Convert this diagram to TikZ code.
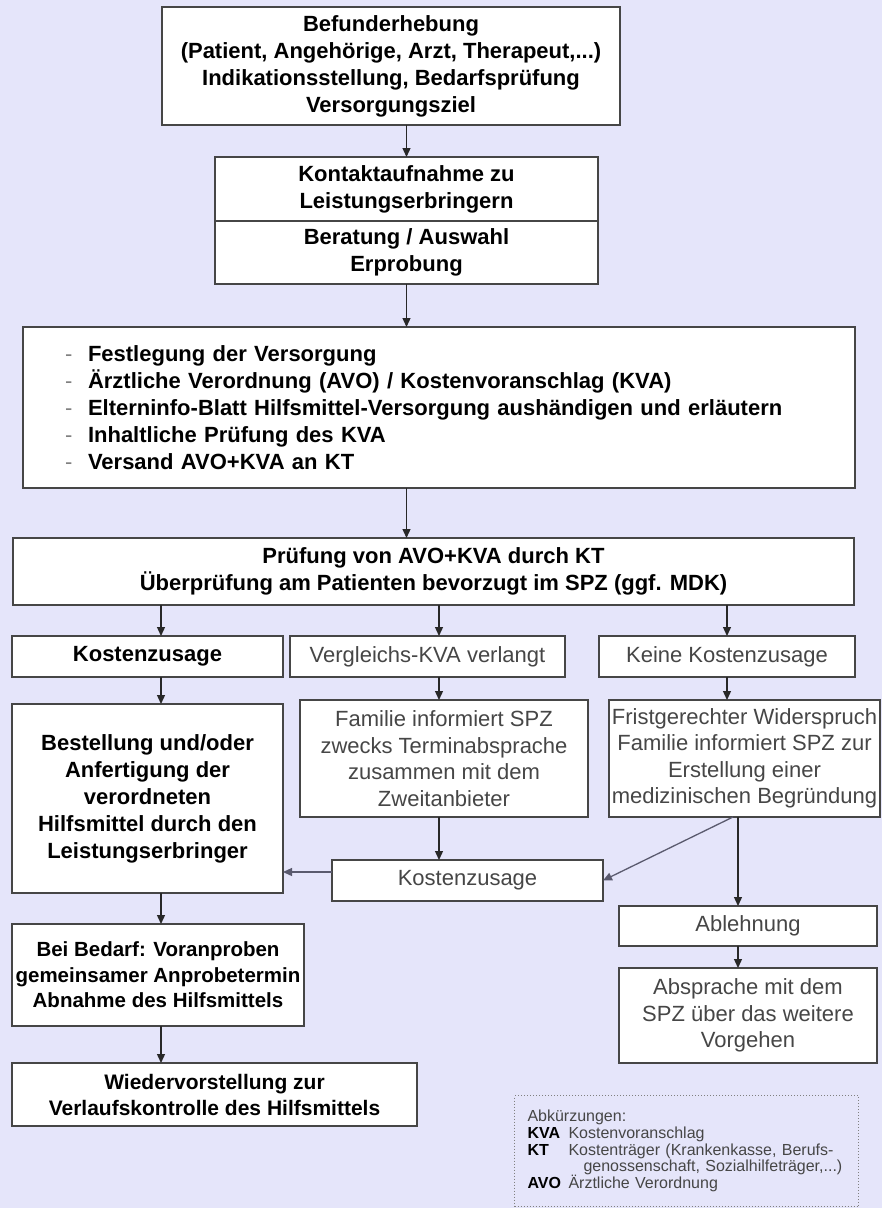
\documentclass[tikz,border=0pt]{standalone}
\usepackage{fontspec}
\setmainfont{Liberation Sans}
\usetikzlibrary{arrows.meta}

\definecolor{hintergrund}{RGB}{229,229,250}
\definecolor{rahmen}{RGB}{70,70,70}
\definecolor{grautext}{RGB}{70,70,70}
\definecolor{pfeilfarbe}{RGB}{40,40,40}
\definecolor{linie}{RGB}{90,90,110}

\newcommand\strich{\makebox[23pt][l]{\mdseries\textcolor{gray}{-}}}
\newcommand\abk[1]{\makebox[41pt][l]{\textbf{\textcolor{black}{#1}}}}

\begin{document}
\begin{tikzpicture}[x=1pt,y=-1pt,
	kasten/.style={draw=rahmen,line width=1.5pt,fill=white,inner sep=0pt,outer sep=0pt,align=center},
	fett/.style={kasten,font=\fontsize{22}{27}\selectfont\bfseries},
	duenn/.style={kasten,text=grautext,font=\fontsize{22}{26.5}\selectfont},
	pfeil/.style={draw=pfeilfarbe,line width=1.3pt,-{Triangle[length=9pt,width=8pt]}}]
	\fill[hintergrund] (0,0) rectangle (882,1208);
	\useasboundingbox (0,0) rectangle (882,1208);

	% Spalten der Pfeile
	\coordinate (spalteA) at (161,0);
	\coordinate (spalteB) at (439,0);
	\coordinate (spalteC) at (733,0);
	\coordinate (spalteD) at (738,0);

	\node[fett,minimum width=458pt,minimum height=118pt] (befund) at (391,66) {Befunderhebung\\(Patient, Angehörige, Arzt, Therapeut,...)\\Indikationsstellung, Bedarfsprüfung\\Versorgungsziel};
	\node[fett,minimum width=383pt,minimum height=64pt] (kontakt) at (406.5,189) {Kontaktaufnahme zu\\Leistungserbringern};
	\node[fett,minimum width=383pt,minimum height=63pt,anchor=north] (beratung) at (kontakt.south) {Beratung / Auswahl\\Erprobung};
	\node[fett,align=left,text width=748pt,inner xsep=42pt,minimum height=161pt] (versorgung) at (439,407.5) {\strich Festlegung der Versorgung\\
		\strich Ärztliche Verordnung (AVO) / Kostenvoranschlag (KVA)\\
		\strich Elterninfo-Blatt Hilfsmittel-Versorgung aushändigen und erläutern\\
		\strich Inhaltliche Prüfung des KVA\\
		\strich Versand AVO+KVA an KT};
	\node[fett,minimum width=841pt,minimum height=67pt] (pruefung) at (433.5,571.5) {Prüfung von AVO+KVA durch KT\\Überprüfung am Patienten bevorzugt im SPZ (ggf. MDK)};

	% drei Zweige
	\node[fett,minimum width=271pt,minimum height=41pt] (zusage) at (147.5,656.5) {Kostenzusage};
	\node[duenn,minimum width=275pt,minimum height=41pt] (vergleich) at (427.5,656.5) {Vergleichs-KVA verlangt};
	\node[duenn,minimum width=256pt,minimum height=41pt] (keine) at (727,656.5) {Keine Kostenzusage};

	\node[fett,minimum width=271pt,minimum height=189pt] (bestellung) at (147.5,798.5) {Bestellung und/oder\\Anfertigung der\\verordneten\\Hilfsmittel durch den\\Leistungserbringer};
	\node[duenn,minimum width=288pt,minimum height=117pt] (familie) at (444,758.5) {Familie informiert SPZ\\zwecks Terminabsprache\\zusammen mit dem\\Zweitanbieter};
	\node[duenn,minimum width=271pt,minimum height=117pt] (widerspruch) at (744.5,758.5) {Fristgerechter Widerspruch\\Familie informiert SPZ zur\\Erstellung einer\\medizinischen Begründung};
	\node[duenn,minimum width=271pt,minimum height=41pt] (zusage2) at (467.5,880.5) {Kostenzusage};
	\node[duenn,minimum width=258pt,minimum height=40pt] (ablehnung) at (748,926) {Ablehnung};
	\node[duenn,minimum width=258pt,minimum height=95pt] (absprache) at (748,1015.5) {Absprache mit dem\\SPZ über das weitere\\Vorgehen};
	\node[fett,font=\fontsize{20.5}{25.5}\selectfont\bfseries,minimum width=292pt,minimum height=102pt] (anprobe) at (158,975) {Bei Bedarf: Voranproben\\gemeinsamer Anprobetermin\\Abnahme des Hilfsmittels};
	\node[fett,font=\fontsize{21}{26}\selectfont\bfseries,minimum width=405pt,minimum height=63pt] (wiedervor) at (214.5,1094.5) {Wiedervorstellung zur\\Verlaufskontrolle des Hilfsmittels};

	% Legende
	\node[draw=gray,dotted,line width=1pt,anchor=north west,text width=318pt,inner xsep=13pt,inner ysep=0pt,minimum height=111pt,align=left,text=grautext,font=\fontsize{16}{16.75}\selectfont] (legende) at (514,1095) {Abkürzungen:\\
		\abk{KVA}Kostenvoranschlag\\
		\abk{KT}Kostenträger (Krankenkasse, Berufs-\\
		\hspace*{56pt}genossenschaft, Sozialhilfeträger,...)\\
		\abk{AVO}Ärztliche Verordnung};

	\draw[pfeil] (befund.south -| kontakt.north) -- (kontakt.north);
	\draw[pfeil] (beratung.south) -- (versorgung.north -| beratung.south);
	\draw[pfeil] (versorgung.south -| beratung.south) -- (pruefung.north -| beratung.south);
	\draw[pfeil] (pruefung.south -| spalteA) -- (zusage.north -| spalteA);
	\draw[pfeil] (pruefung.south -| spalteB) -- (vergleich.north -| spalteB);
	\draw[pfeil] (pruefung.south -| keine.north) -- (keine.north);
	\draw[pfeil] (zusage.south -| spalteA) -- (bestellung.north -| spalteA);
	\draw[pfeil] (vergleich.south -| spalteB) -- (familie.north -| spalteB);
	\draw[pfeil] (keine.south) -- (widerspruch.north -| keine.south);
	\draw[pfeil] (familie.south -| spalteB) -- (zusage2.north -| spalteB);
	\draw[pfeil,draw=linie] ([yshift=8.5pt]zusage2.west) -- ([yshift=8.5pt]zusage2.west -| bestellung.east);
	\draw[pfeil,draw=linie] (widerspruch.south -| spalteC) -- (zusage2.east);
	\draw[pfeil] (widerspruch.south -| spalteD) -- (ablehnung.north -| spalteD);
	\draw[pfeil] (ablehnung.south -| spalteD) -- (absprache.north -| spalteD);
	\draw[pfeil] (bestellung.south -| spalteA) -- (anprobe.north -| spalteA);
	\draw[pfeil] (anprobe.south -| spalteA) -- (wiedervor.north -| spalteA);
\end{tikzpicture}
\end{document}
